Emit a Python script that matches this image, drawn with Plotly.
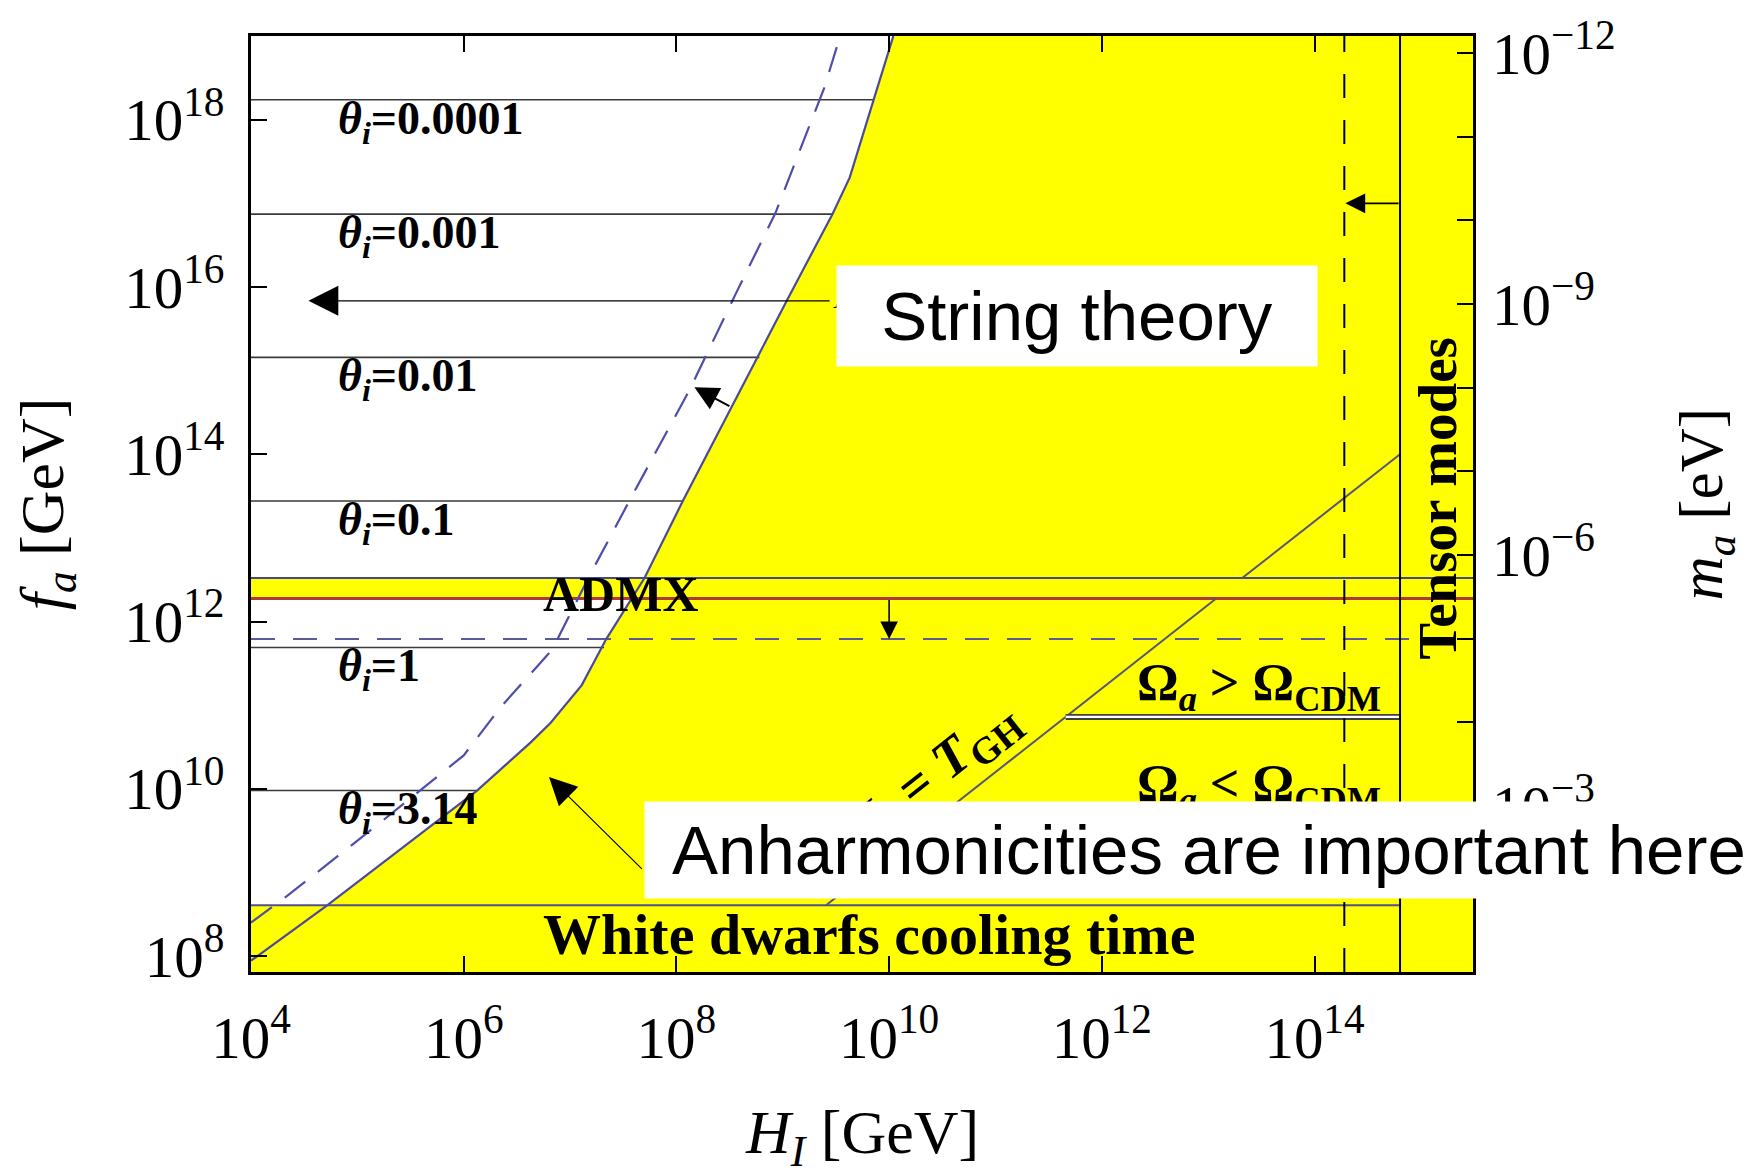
import plotly.graph_objects as go

# ---------------- data (log10 values) ----------------
# axis ranges: log10 H_I [GeV], log10 f_a [GeV]
x_range = [4.0, 15.49]
y_range = [7.81, 19.0]
# m_a [eV] = 10**MA_LOG / f_a [GeV]
MA_LOG = 6.795

# isocurvature bound (solid) and its dashed companion
solid_logH = [4.0, 4.716, 6.128, 6.43, 6.63, 6.818, 7.11, 7.34, 7.70, 8.06, 8.62, 9.035, 9.467, 9.63, 9.855, 10.04]
solid_logf = [7.945, 8.607, 9.982, 10.32, 10.555, 10.79, 11.24, 11.79, 12.52, 13.44, 14.82, 15.83, 16.87, 17.31, 18.24, 19.0]
dashed_logH = [4.0, 4.34, 5.19, 5.6, 6.0, 6.35, 6.83, 7.18, 7.59, 8.12, 8.57, 8.93, 9.39, 9.54]
dashed_logf = [8.40, 8.72, 9.57, 9.99, 10.40, 10.98, 11.66, 12.54, 13.52, 14.76, 15.95, 16.88, 18.38, 19.0]

# initial misalignment angle lines
theta_labels = ["0.0001", "0.001", "0.01", "0.1", "1", "3.14"]
theta_logf = [18.237, 16.87, 15.158, 13.44, 11.69, 9.98]
theta_end_logH = [9.855, 9.467, 8.78, 8.06, 7.32, 6.128]

# horizontal bands / lines
admx_logf = [12.275, 12.52]          # red (bottom), blue (top)
wd_top_logf = 8.607
dashed_h_logf = 11.79
omega_line_logf = 10.86
omega_line_logH = [11.66, 14.804]

# H_I = T_GH diagonal (two segments, interrupted by ADMX band)
tgh_seg1_logH = [9.41, 13.075]
tgh_seg1_logf = [8.61, 12.275]
tgh_seg2_logH = [13.32, 14.804]
tgh_seg2_logf = [12.52, 14.00]

# vertical lines: tensor modes bound (solid) and dashed
tensor_logH = 14.804
tensor_dashed_logH = 14.28

# tick labels
x_tick_exp = [4, 6, 8, 10, 12, 14]
y_tick_exp = [8, 10, 12, 14, 16, 18]
m_tick_exp = [-12, -11, -10, -9, -8, -7, -6, -5, -4, -3, -2]
m_label_exp = [-12, -9, -6, -3]

YELLOW = "#FFFF00"
BLUE = "#4a4a9c"
SERIF = "Liberation Serif, Times New Roman, serif"
SANS = "Liberation Sans, Arial, sans-serif"


def p10(v):
    return [10 ** a for a in v]


fig = go.Figure()

# yellow excluded region right of the solid curve
fig.add_trace(go.Scatter(
    x=p10(solid_logH + [x_range[1], x_range[1], x_range[0]]),
    y=p10(solid_logf + [y_range[1], y_range[0], y_range[0]]),
    fill="toself", fillcolor=YELLOW, mode="lines", line=dict(width=0),
    hoverinfo="skip"))
# ADMX band
fig.add_trace(go.Scatter(
    x=p10([x_range[0], x_range[1], x_range[1], x_range[0]]),
    y=p10([admx_logf[0], admx_logf[0], admx_logf[1], admx_logf[1]]),
    fill="toself", fillcolor=YELLOW, mode="lines", line=dict(width=0), hoverinfo="skip"))
# white dwarf band
fig.add_trace(go.Scatter(
    x=p10([x_range[0], x_range[1], x_range[1], x_range[0]]),
    y=p10([y_range[0], y_range[0], wd_top_logf, wd_top_logf]),
    fill="toself", fillcolor=YELLOW, mode="lines", line=dict(width=0), hoverinfo="skip"))

# theta lines
tx, ty = [], []
for f, e in zip(theta_logf, theta_end_logH):
    tx += [10 ** x_range[0], 10 ** e, None]
    ty += [10 ** f, 10 ** f, None]
fig.add_trace(go.Scatter(x=tx, y=ty, mode="lines", line=dict(color="#3a3a3a", width=1.6), hoverinfo="skip"))

# dashed horizontal
fig.add_trace(go.Scatter(x=p10(x_range), y=p10([dashed_h_logf] * 2), mode="lines",
                         line=dict(color="#5a5a98", width=2, dash="24px,18px"), hoverinfo="skip"))
# ADMX lines
fig.add_trace(go.Scatter(x=p10(x_range), y=p10([admx_logf[1]] * 2), mode="lines",
                         line=dict(color="#46469a", width=2), hoverinfo="skip"))
fig.add_trace(go.Scatter(x=p10(x_range), y=p10([admx_logf[0]] * 2), mode="lines",
                         line=dict(color="#b03a3a", width=2.8), hoverinfo="skip"))
# WD top
fig.add_trace(go.Scatter(x=p10([x_range[0], tensor_logH]), y=p10([wd_top_logf] * 2), mode="lines",
                         line=dict(color="#50508e", width=2), hoverinfo="skip"))
# T_GH diagonal
fig.add_trace(go.Scatter(x=p10(tgh_seg1_logH) + [None] + p10(tgh_seg2_logH),
                         y=p10(tgh_seg1_logf) + [None] + p10(tgh_seg2_logf), mode="lines",
                         line=dict(color="#55557a", width=2), hoverinfo="skip"))
# Omega double line
fig.add_trace(go.Scatter(x=p10(omega_line_logH), y=p10([omega_line_logf] * 2), mode="lines",
                         line=dict(color="#404040", width=6), hoverinfo="skip"))
fig.add_trace(go.Scatter(x=p10(omega_line_logH), y=p10([omega_line_logf] * 2), mode="lines",
                         line=dict(color="white", width=2.2), hoverinfo="skip"))
# curves
fig.add_trace(go.Scatter(x=p10(solid_logH), y=p10(solid_logf), mode="lines",
                         line=dict(color=BLUE, width=2.2), hoverinfo="skip"))
fig.add_trace(go.Scatter(x=p10(dashed_logH), y=p10(dashed_logf), mode="lines",
                         line=dict(color="#4e4eaa", width=2.2, dash="26px,16px"), hoverinfo="skip"))
# vertical lines
fig.add_trace(go.Scatter(x=p10([tensor_dashed_logH] * 2), y=p10(y_range), mode="lines",
                         line=dict(color="black", width=2, dash="24px,22px"), hoverinfo="skip"))
fig.add_trace(go.Scatter(x=p10([tensor_logH] * 2), y=p10(y_range), mode="lines",
                         line=dict(color="black", width=2), hoverinfo="skip"))
# invisible trace for right axis
fig.add_trace(go.Scatter(x=[1e5], y=[1e-6], yaxis="y2", mode="markers",
                         marker=dict(opacity=0), hoverinfo="skip"))

ann = []
for lab, f in zip(theta_labels, theta_logf):
    ann.append(dict(x=4.80, y=f, xref="x", yref="y", xanchor="left", yanchor="middle", yshift=-22,
                    text=f"<b><i>θ<sub>i</sub></i>={lab}</b>", showarrow=False,
                    font=dict(family=SERIF, size=46, color="black")))
ann.append(dict(x=7.477, y=12.33, xref="x", yref="y", text="<b>ADMX</b>", showarrow=False,
                font=dict(family=SERIF, size=50, color="black")))
ann.append(dict(x=9.808, y=8.257, xref="x", yref="y", text="<b>White dwarfs cooling time</b>", showarrow=False,
                font=dict(family=SERIF, size=58, color="black")))
ann.append(dict(x=15.16, y=13.47, xref="x", yref="y", text="<b>Tensor modes</b>", showarrow=False,
                textangle=-90, font=dict(family=SERIF, size=55, color="black")))
ann.append(dict(x=13.48, y=11.225, xref="x", yref="y", showarrow=False,
                text="<b>Ω<sub><i>a</i></sub> &gt; Ω<sub>CDM</sub></b>",
                font=dict(family=SERIF, size=52, color="black")))
ann.append(dict(x=13.48, y=10.02, xref="x", yref="y", showarrow=False,
                text="<b>Ω<sub><i>a</i></sub> &lt; Ω<sub>CDM</sub></b>",
                font=dict(family=SERIF, size=52, color="black")))
ann.append(dict(x=10.387, y=10.14, xref="x", yref="y", showarrow=False, textangle=-38.5,
                text="<b><i>H</i><sub><i>I</i></sub> = <i>T</i><sub>GH</sub></b>",
                font=dict(family=SERIF, size=54, color="black")))
ann.append(dict(x=9.45, y=15.88, xref="x", yref="y", xanchor="left", showarrow=False,
                text="A", font=dict(family=SERIF, size=34, color="black")))


def arrow(tip, tail, width, size):
    return dict(x=tip[0], y=tip[1], ax=tail[0], ay=tail[1], xref="x", yref="y", axref="x", ayref="y",
                text="", showarrow=True, arrowhead=2, arrowwidth=width, arrowsize=size,
                arrowcolor="black", standoff=0)


ann.append(arrow((4.54, 15.834), (9.455, 15.834), 1.3, 4.6))
ann.append(arrow((8.169, 14.80), (8.512, 14.566), 2.0, 2.4))
ann.append(arrow((10.0, 11.79), (10.0, 12.275), 1.6, 2.2))
ann.append(arrow((14.29, 17.0), (14.804, 17.0), 1.8, 2.2))
ann.append(arrow((6.802, 10.14), (7.689, 9.025), 1.2, 4.6))

# String theory box
ann.append(dict(x=11.771, y=15.653, xref="x", yref="y", showarrow=False, text="String theory",
                bgcolor="white", width=480, height=100, borderpad=0,
                font=dict(family=SANS, size=69, color="black")))
# Anharmonicities box + text
ann.append(dict(x=12.915, y=9.27, xref="x", yref="y", showarrow=False, text="&nbsp;",
                bgcolor="white", width=1109, height=96, borderpad=0,
                font=dict(family=SANS, size=20, color="black")))
ann.append(dict(x=13.005, y=9.263, xref="x", yref="y", showarrow=False,
                text="Anharmonicities are important here",
                font=dict(family=SANS, size=69, color="black")))

# axis titles
ann.append(dict(x=-0.1675, y=0.5, xref="paper", yref="paper", xanchor="center", yanchor="middle",
                showarrow=False, textangle=-90,
                text="<i>f</i><sub><i>a</i></sub> [GeV]", font=dict(family=SERIF, size=62, color="black")))
ann.append(dict(x=1.191, y=0.5, xref="paper", yref="paper", xanchor="center", yanchor="middle",
                showarrow=False, textangle=-90,
                text="<i>m</i><sub><i>a</i></sub> [eV]", font=dict(family=SERIF, size=61, color="black")))
ann.append(dict(x=0.5, y=-0.176, xref="paper", yref="paper", xanchor="center", yanchor="middle",
                showarrow=False,
                text="<i>H</i><sub><i>I</i></sub> [GeV]", font=dict(family=SERIF, size=62, color="black")))


def sup(e):
    return "10<sup>" + ("−" + str(-e) if e < 0 else str(e)) + "</sup>"


axis_common = dict(type="log", showgrid=False, zeroline=False, ticks="inside", ticklen=16, tickwidth=2,
                   tickcolor="black", showline=True, linecolor="black", linewidth=2.5,
                   tickfont=dict(family=SERIF, size=59, color="black"))

fig.update_layout(
    width=1752, height=1171, margin=dict(l=251, r=279, t=28, b=199),
    plot_bgcolor="white", paper_bgcolor="white", showlegend=False,
    xaxis=dict(**axis_common, range=x_range, mirror="ticks",
               tickvals=[10 ** e for e in x_tick_exp], ticktext=[sup(e) for e in x_tick_exp],
               ticklabelstandoff=12),
    yaxis=dict(**axis_common, range=y_range, mirror=True,
               tickvals=[10 ** e for e in y_tick_exp], ticktext=[sup(e) for e in y_tick_exp],
               ticklabelstandoff=12),
    yaxis2=dict(**{k: v for k, v in axis_common.items() if k not in ("showline",)}, showline=False,
                overlaying="y", side="right",
                range=[MA_LOG - y_range[0], MA_LOG - y_range[1]],
                tickvals=[10 ** e for e in m_tick_exp],
                ticktext=[sup(e) if e in m_label_exp else "" for e in m_tick_exp],
                ticklabelstandoff=18),
    annotations=ann,
)

fig.write_html("out.html", config={"displayModeBar": False},
               post_script="document.body.style.margin='0px';")
